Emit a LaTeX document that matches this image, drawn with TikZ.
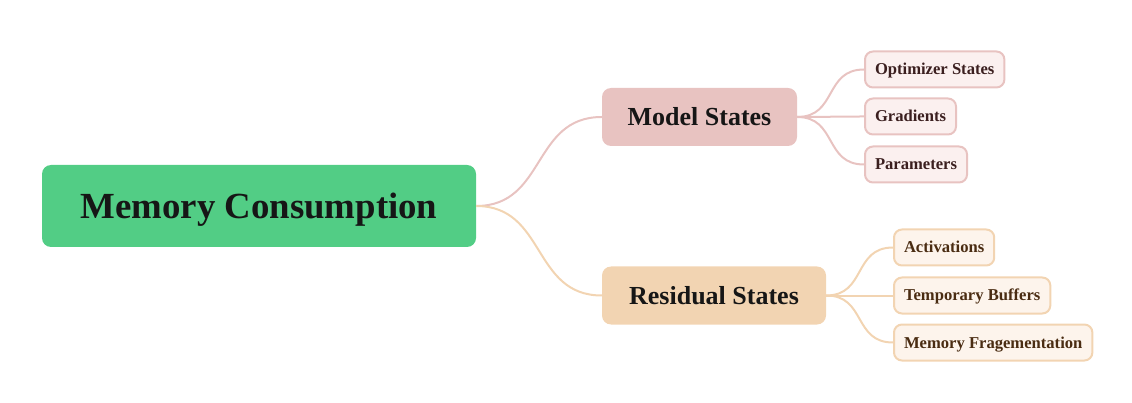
\documentclass[tikz,border=0pt]{standalone}
\usepackage{fontspec}
\setmainfont{Liberation Serif}
\definecolor{rootfill}{HTML}{52CD85}
\definecolor{msfill}{HTML}{E8C3C1}
\definecolor{rsfill}{HTML}{F2D4B2}
\definecolor{msleaf}{HTML}{FBF0EF}
\definecolor{rsleaf}{HTML}{FDF4EC}
\definecolor{mstext}{HTML}{3B1F1F}
\definecolor{rstext}{HTML}{4A2C12}
\definecolor{dark}{HTML}{161616}
\tikzset{
  rootbox/.style={fill=rootfill, rounded corners=9pt, minimum width=434pt, minimum height=82pt,
    font=\fontsize{36.8}{40}\selectfont\bfseries, text=dark, inner sep=0pt,
    text height=30pt, text depth=4pt},
  midbox/.style={rounded corners=9pt, minimum height=58pt, inner sep=0pt,
    font=\fontsize{26}{30}\selectfont\bfseries, text=dark, text height=22pt, text depth=4pt},
  leafbox/.style={rounded corners=8pt, line width=2pt, minimum height=36pt, inner xsep=10pt, inner ysep=0pt,
    anchor=west, font=\fontsize{16.6}{18}\selectfont\bfseries, text height=13pt, text depth=2pt},
  msleafbox/.style={leafbox, draw=msfill, fill=msleaf, text=mstext},
  rsleafbox/.style={leafbox, draw=rsfill, fill=rsleaf, text=rstext},
  msline/.style={draw=msfill, line width=2pt},
  rsline/.style={draw=rsfill, line width=2pt},
}
\begin{document}
\begin{tikzpicture}[x=1pt,y=-1pt]
\useasboundingbox (0,0) rectangle (1132,403);
\node[rootbox] (root) at (259,206) {Memory Consumption};
\node[midbox, fill=msfill, minimum width=195pt] (ms) at (699.5,117) {Model States};
\node[midbox, fill=rsfill, minimum width=224pt] (rs) at (714,295.5) {Residual States};

\node[msleafbox] (opt) at (864,69.5) {Optimizer States};
\node[msleafbox] (grad) at (864,116.5) {Gradients};
\node[msleafbox] (par) at (864,164.5) {Parameters};

\node[rsleafbox] (act) at (893,247.5) {Activations};
\node[rsleafbox] (tmp) at (893,295.5) {Temporary Buffers};
\node[rsleafbox] (frag) at (893,342.5) {Memory Fragementation};

\draw[msline] (root.east) .. controls +(70,0) and +(-70,0) .. (ms.west);
\draw[rsline] (root.east) .. controls +(70,0) and +(-70,0) .. (rs.west);
\foreach \t in {opt,grad,par}
  \draw[msline] (ms.east) .. controls +(40,0) and +(-40,0) .. (\t.west);
\foreach \t in {act,tmp,frag}
  \draw[rsline] (rs.east) .. controls +(40,0) and +(-40,0) .. (\t.west);
\end{tikzpicture}
\end{document}
